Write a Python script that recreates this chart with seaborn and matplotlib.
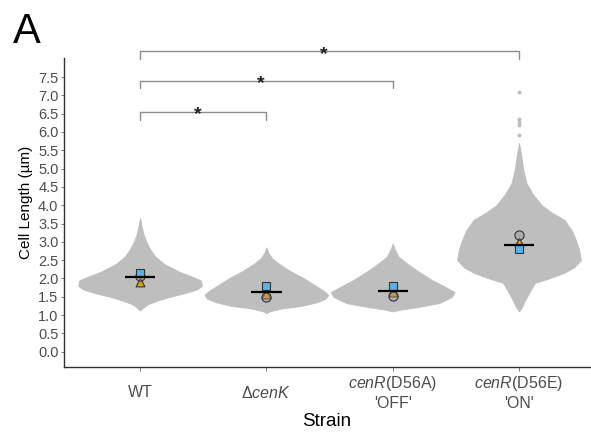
import matplotlib
matplotlib.use("Agg")
import matplotlib.pyplot as plt
import seaborn as sns
import pandas as pd
import numpy as np

# ---------------- data ----------------
strains = ["WT", "ΔcenK", "cenR(D56A) 'OFF'", "cenR(D56E) 'ON'"]
tick_labels = ["WT",
               r"$\mathit{\Delta cenK}$",
               r"$\mathit{cenR}$(D56A)" + "\n'OFF'",
               r"$\mathit{cenR}$(D56E)" + "\n'ON'"]

# replicate means (circle, triangle, square) and overall mean line
rep_circle = [2.07, 1.50, 1.53, 3.19]
rep_triangle = [1.90, 1.58, 1.63, 3.00]
rep_square = [2.14, 1.80, 1.79, 2.81]
overall_mean = [2.03, 1.63, 1.66, 2.92]

# swarm outline: length levels (µm) and half-width (category units)
wt_levels = [1.12, 1.2, 1.3, 1.4, 1.5, 1.6, 1.7, 1.8, 1.95, 2.05, 2.2, 2.4, 2.6, 2.8, 3.0, 3.2, 3.4, 3.65]
wt_width = [0.0, 0.024, 0.063, 0.143, 0.238, 0.356, 0.45, 0.49, 0.48, 0.41, 0.30, 0.19, 0.12, 0.08, 0.05, 0.028, 0.014, 0.0]

dk_levels = [1.05, 1.1, 1.18, 1.25, 1.35, 1.45, 1.55, 1.65, 1.8, 2.0, 2.2, 2.4, 2.55, 2.7, 2.85]
dk_width = [0.0, 0.024, 0.119, 0.277, 0.40, 0.47, 0.49, 0.46, 0.39, 0.30, 0.19, 0.10, 0.045, 0.016, 0.0]

off_levels = [1.1, 1.15, 1.22, 1.33, 1.5, 1.63, 1.8, 1.96, 2.2, 2.42, 2.6, 2.8, 2.95]
off_width = [0.0, 0.063, 0.20, 0.37, 0.47, 0.49, 0.40, 0.31, 0.20, 0.11, 0.045, 0.016, 0.0]

on_levels = [1.1, 1.22, 1.4, 1.6, 1.7, 1.88, 2.0, 2.15, 2.3, 2.5, 2.8, 3.05, 3.3, 3.6, 3.8, 4.0, 4.3, 4.6, 5.0, 5.4, 5.7]
on_width = [0.0, 0.024, 0.048, 0.079, 0.095, 0.127, 0.238, 0.356, 0.435, 0.49, 0.475, 0.45, 0.42, 0.36, 0.26, 0.18, 0.11, 0.06, 0.032, 0.016, 0.0]

on_outliers = [7.08, 6.35, 6.27, 6.20, 5.92]

# significance brackets: (group a, group b, height)
brackets = [(0, 1, 6.54), (0, 2, 7.39), (0, 3, 8.20)]

# ---------------- style ----------------
sns.set_theme(style="white")
plt.rcParams["font.family"] = ["Liberation Sans", "DejaVu Sans"]
plt.rcParams["mathtext.fontset"] = "custom"
plt.rcParams["mathtext.rm"] = "Liberation Sans"
plt.rcParams["mathtext.it"] = "Liberation Sans:italic"

W, H = 591, 434
fig = plt.figure(figsize=(W / 100, H / 100), dpi=100)
ax = fig.add_axes([64 / W, 1 - 367 / H, (W - 64) / W, (367 - 58) / H])

swarm_color = "#BEBEBE"
profiles = [(wt_levels, wt_width), (dk_levels, dk_width),
            (off_levels, off_width), (on_levels, on_width)]
for i, (lv, wd) in enumerate(profiles):
    lv = np.asarray(lv)
    wd = np.asarray(wd)
    ax.fill_betweenx(lv, i - wd, i + wd, color=swarm_color, lw=0.6,
                     edgecolor=swarm_color, zorder=1)

out_df = pd.DataFrame({"x": [3] * len(on_outliers), "y": on_outliers})
sns.scatterplot(data=out_df, x="x", y="y", ax=ax, color=swarm_color, s=8,
                linewidth=0, zorder=1, legend=False)

xs = list(range(len(strains)))
tri_df = pd.DataFrame({"x": xs, "y": rep_triangle})
cir_df = pd.DataFrame({"x": xs, "y": rep_circle})
sq_df = pd.DataFrame({"x": xs, "y": rep_square})
sns.scatterplot(data=tri_df, x="x", y="y", ax=ax, marker="^", s=40,
                color="#E69F00", edgecolor="#333333", linewidth=0.8, zorder=3, legend=False)
sns.scatterplot(data=cir_df, x="x", y="y", ax=ax, marker="o", s=44,
                facecolor=(0.6, 0.6, 0.6, 0.45), edgecolor="#333333", linewidth=0.8,
                zorder=3.2, legend=False)
sns.scatterplot(data=sq_df, x="x", y="y", ax=ax, marker="s", s=36,
                color="#56B4E9", edgecolor="#333333", linewidth=0.8, zorder=3.4, legend=False)

for i, m in enumerate(overall_mean):
    ax.plot([i - 0.12, i + 0.12], [m, m], color="black", lw=1.6, zorder=4,
            solid_capstyle="butt")

# brackets
tick_h = 0.2
for a, b, h in brackets:
    ax.plot([a, a, b, b], [h - tick_h, h, h, h - tick_h], color="#8C8C8C",
            lw=1.0, clip_on=False, zorder=2)
    ax.text((a + b) / 2 - 0.045, h - 0.2, "*", ha="center", va="baseline",
            fontsize=14, fontweight="bold", color="#222222", clip_on=False)

# axes
ax.set_xlim(-0.602, 3 + (W - 519) / 126.3)
ax.set_ylim(-0.418, 8.02)
ax.set_yticks(np.arange(0, 7.51, 0.5))
ax.set_yticklabels([f"{v:.1f}" for v in np.arange(0, 7.51, 0.5)])
ax.set_xticks(xs)
ax.set_xticklabels(tick_labels)
for lab in ax.get_xticklabels():
    lab.set_va("center")
ax.tick_params(axis="x", length=3, width=0.6, color="#666666", pad=15.5,
               labelsize=11.5, labelcolor="#4D4D4D", bottom=True)
ax.tick_params(axis="y", length=2.5, width=0.6, color="#666666", pad=1.5,
               labelsize=10.5, labelcolor="#4D4D4D", left=True)

for s in ["top", "right"]:
    ax.spines[s].set_visible(False)
for s in ["left", "bottom"]:
    ax.spines[s].set_color("#333333")
    ax.spines[s].set_linewidth(1.0)

ax.set_xlabel("Strain", fontsize=13.5, color="black")
ax.xaxis.set_label_coords(327 / W, 1 - 422 / H, transform=fig.transFigure)
ax.xaxis.label.set_va("center")
ax.set_ylabel("Cell Length (µm)", fontsize=11, color="black")
ax.yaxis.set_label_coords(26 / W, 1 - 202 / H, transform=fig.transFigure)
ax.yaxis.label.set_va("center")

fig.text(13 / W, 1 - 43 / H, "A", fontsize=30, va="baseline", ha="left", color="black")

fig.savefig("out.png", dpi=100)
